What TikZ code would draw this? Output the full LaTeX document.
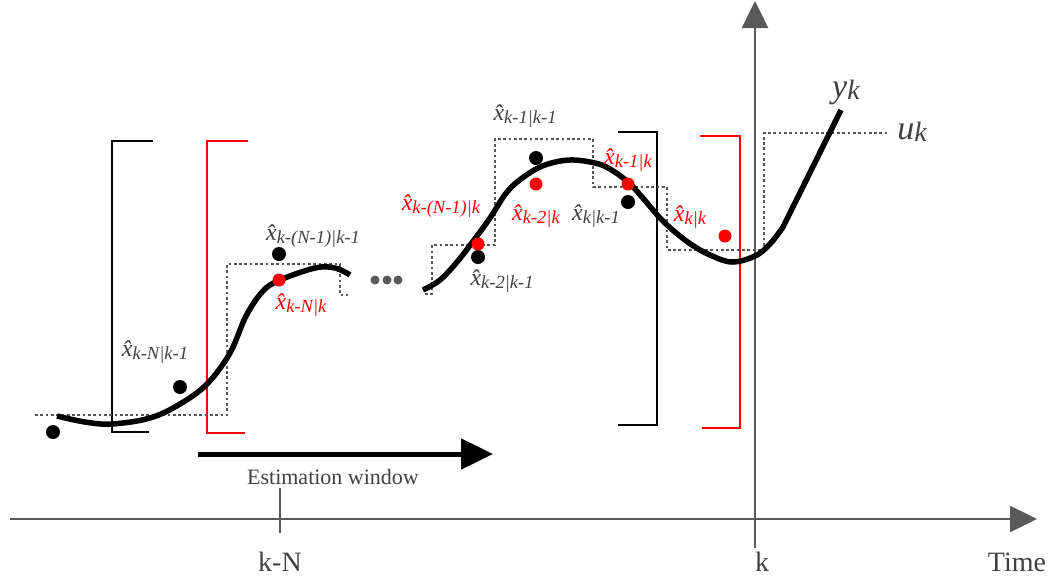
\documentclass[tikz,border=0pt]{standalone}
\usepackage{fontspec}
\setmainfont{Liberation Serif}
\usetikzlibrary{arrows.meta}
\definecolor{axisgray}{HTML}{595959}
\definecolor{lblgray}{HTML}{404040}
\definecolor{dotgray}{HTML}{555555}
\definecolor{mred}{HTML}{FF0000}
\newcommand{\xh}[1]{{\fontsize{24}{24}\selectfont\itshape\^{x}}\raisebox{-0.5ex}{\fontsize{18.5}{18.5}\selectfont\itshape #1}}
\begin{document}
\begin{tikzpicture}[x=1pt,y=-1pt,
  axis/.style={draw=axisgray,line width=2.5pt},
  bracketk/.style={draw=black,line width=2pt},
  bracketr/.style={draw=mred,line width=2pt},
  stepline/.style={draw=dotgray,line width=2.7pt,dash pattern=on 2.7pt off 2.6pt},
  traj/.style={draw=black,line width=5.5pt},
  bdot/.style={circle,fill=black,inner sep=0pt,minimum size=14pt},
  rdot/.style={circle,fill=mred,inner sep=0pt,minimum size=13pt},
  gdot/.style={circle,fill=axisgray,inner sep=0pt,minimum size=9pt},
  lblk/.style={text=lblgray,inner sep=0pt},
  lblr/.style={text=mred,inner sep=0pt},
  ticklbl/.style={text=lblgray,font=\fontsize{28}{28}\selectfont,inner sep=0pt}]
\useasboundingbox (0,0) rectangle (1058,582);
% axes
\coordinate (hstart) at (10,519);
\coordinate (hend) at (1037,519);
\coordinate (vstart) at (755,548);
\coordinate (vend) at (755,1);
\coordinate (tNa) at (280,488);
\coordinate (tNb) at (280,533);
\draw[axis,-{Triangle[length=27pt,width=26pt]}] (hstart) -- (hend);
\draw[axis,-{Triangle[length=27pt,width=26pt]}] (vstart) -- (vend);
\draw[axis] (tNa) -- (tNb);
\node[ticklbl] (kN) at (280,562) {k-N};
\node[ticklbl] (kk) at (762,562) {k};
\node[ticklbl] (time) at (1017,562) {Time};
% estimation window arrow
\coordinate (ewa) at (198,454);
\coordinate (ewb) at (493,454);
\draw[line width=5pt,-{Triangle[length=32pt,width=30pt]}] (ewa) -- (ewb);
\node[text=lblgray,font=\fontsize{22}{22}\selectfont,inner sep=0pt] (ew) at (333,477) {Estimation window};
% brackets
\draw[bracketk] (153,141) -- (112,141) -- (112,432) -- (149,432);
\draw[bracketr] (248,141) -- (207,141) -- (207,433) -- (245,433);
\draw[bracketk] (618,132) -- (657,132) -- (657,425) -- (618,425);
\draw[bracketr] (700,136) -- (740,136) -- (740,428) -- (702,428);
% step input
\draw[stepline] (35,415) -- (227,415) -- (227,264) -- (340,264) -- (340,295) -- (348,295);
\draw[stepline] (425,294) -- (432,294) -- (432,245) -- (495,245) -- (495,139) -- (593,139) -- (593,187) -- (667,187) -- (667,250) -- (764,250) -- (764,133) -- (890,133);
% trajectories
\draw[traj] plot[smooth,tension=0.6] coordinates {(57,416) (85,422) (112,424) (150,418) (180,404) (207,384) (230,353) (246,316) (263,291) (280,280) (315,268) (335,268) (350,275)};
\draw[traj] plot[smooth,tension=0.6] coordinates {(423,290) (440,280) (457,262) (474,240) (490,218) (507,192) (525,176) (545,165) (570,160) (595,163) (610,169) (628,182) (642,197) (660,218) (675,232) (692,245) (710,255) (732,262) (755,256) (770,244) (783,227)} -- (841,110);
% ellipsis dots
\node[gdot] (e1) at (375,280) {};
\node[gdot] (e2) at (387,280) {};
\node[gdot] (e3) at (398,280) {};
% black dots
\node[bdot] (b1) at (53,432) {};
\node[bdot] (b2) at (180,387) {};
\node[bdot] (b3) at (279,254) {};
\node[bdot] (b4) at (478,257) {};
\node[bdot] (b5) at (536,158) {};
\node[bdot] (b6) at (628,202) {};
% red dots
\node[rdot] (r1) at (279,280) {};
\node[rdot] (r2) at (478,244) {};
\node[rdot] (r3) at (536,184) {};
\node[rdot] (r4) at (628,184) {};
\node[rdot] (r5) at (725,236) {};
% labels
\node[lblk] (l1) at (155,352) {\xh{k-N|k-1}};
\node[lblk] (l2) at (313,236) {\xh{k-(N-1)|k-1}};
\node[lblr] (l3) at (301,305) {\xh{k-N|k}};
\node[lblk] (l4) at (525,116) {\xh{k-1|k-1}};
\node[lblr] (l5) at (441,206) {\xh{k-(N-1)|k}};
\node[lblr] (l6) at (536,216) {\xh{k-2|k}};
\node[lblk] (l7) at (596,216) {\xh{k|k-1}};
\node[lblr] (l8) at (628,160) {\xh{k-1|k}};
\node[lblr] (l9) at (690,217) {\xh{k|k}};
\node[lblk] (l10) at (502,281) {\xh{k-2|k-1}};
\node[lblk,font=\itshape] (yk) at (846,92) {{\fontsize{34}{34}\selectfont y}\raisebox{-0.45ex}{\fontsize{28}{28}\selectfont k}};
\node[lblk,font=\itshape] (uk) at (912,132) {{\fontsize{34}{34}\selectfont u}\raisebox{-0.45ex}{\fontsize{28}{28}\selectfont k}};
\end{tikzpicture}
\end{document}
